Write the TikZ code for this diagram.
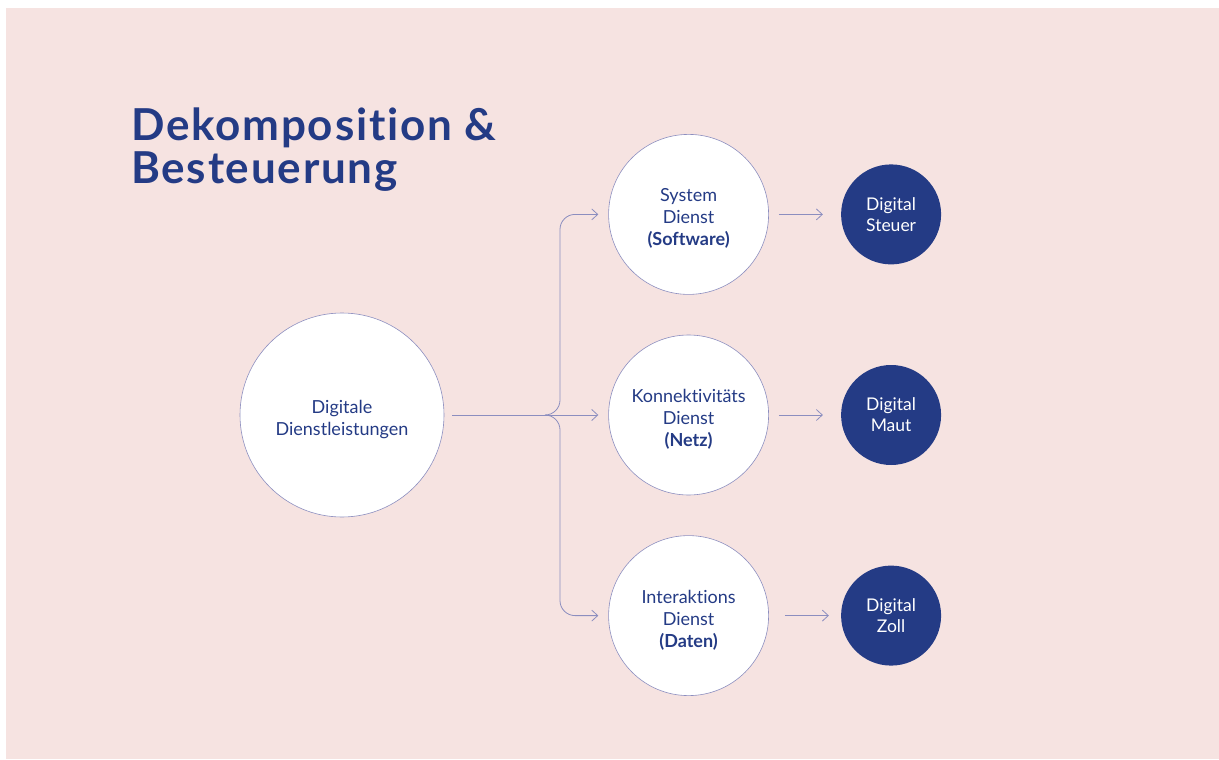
\documentclass[tikz,border=0pt]{standalone}
\usepackage{fontspec}
\setmainfont[Ligatures=NoCommon]{Lato}
\usetikzlibrary{positioning,arrows.meta}

\definecolor{rosebg}{HTML}{F6E3E1}
\definecolor{navy}{HTML}{243B85}
\definecolor{lilac}{HTML}{8C8EBF}

\newcommand{\topgap}{\rule{0pt}{22pt}}

\tikzset{
  svc/.style={circle, draw=lilac, line width=0.6pt, fill=white, inner sep=0pt,
    minimum size=160pt, align=center, text=navy,
    font=\fontsize{18}{22}\selectfont},
  hub/.style={svc, minimum size=204pt},
  tax/.style={circle, fill=navy, inner sep=0pt, minimum size=100pt,
    align=center, text=white, font=\fontsize{17.5}{21}\selectfont},
  title/.style={anchor=north west, inner sep=0pt, align=left, text=navy,
    font=\fontsize{44}{43}\selectfont\bfseries\addfontfeatures{LetterSpace=4}},
  link/.style={draw=lilac, line width=0.8pt},
  arr/.style={link, -{Straight Barb[length=6pt,width=11pt]}}
}

\begin{document}
\begin{tikzpicture}[x=1pt,y=-1pt]

% Background
  \useasboundingbox (0,0) rectangle (1219,760);
  \fill[rosebg] (6,8) rectangle (1219,759);

% Nodes
  \node[title]                      (head) at (131,108) {Dekomposition \&\\Besteuerung};
  \node[hub]                        (dig)  at (342,415) {\topgap Digitale\\Dienstleistungen};
  \node[svc, right=164pt of dig]    (konn) {\topgap Konnektivitäts\\Dienst\\\textbf{(Netz)}};
  \node[svc, above=40pt of konn]    (sys)  {\topgap System\\Dienst\\\textbf{(Software)}};
  \node[svc, below=40pt of konn]    (inter){\topgap Interaktions\\Dienst\\\textbf{(Daten)}};
  \node[tax, right=72pt of sys]     (steuer) {Digital\\Steuer};
  \node[tax, right=72pt of konn]    (maut) {Digital\\Maut};
  \node[tax, right=72pt of inter]   (zoll) {Digital\\Zoll};

  \coordinate (fork)  at (545,415);
  \coordinate (spine) at (560,0);

% Edges
  \draw[link] ([xshift=8pt]dig.east) -- (fork);
  \draw[arr] (fork) -- ([xshift=-10pt]konn.west);
  \draw[arr, rounded corners=15pt] (fork) -- (fork -| spine) |- ([xshift=-10pt]sys.west);
  \draw[arr, rounded corners=15pt] (fork) -- (fork -| spine) |- ([xshift=-10pt]inter.west);

  \draw[arr] ([xshift=10pt]sys.east)   -- ([xshift=-18pt]steuer.west);
  \draw[arr] ([xshift=10pt]konn.east)  -- ([xshift=-18pt]maut.west);
  \draw[arr] ([xshift=16pt]inter.east) -- ([xshift=-12pt]zoll.west);

\end{tikzpicture}
\end{document}
